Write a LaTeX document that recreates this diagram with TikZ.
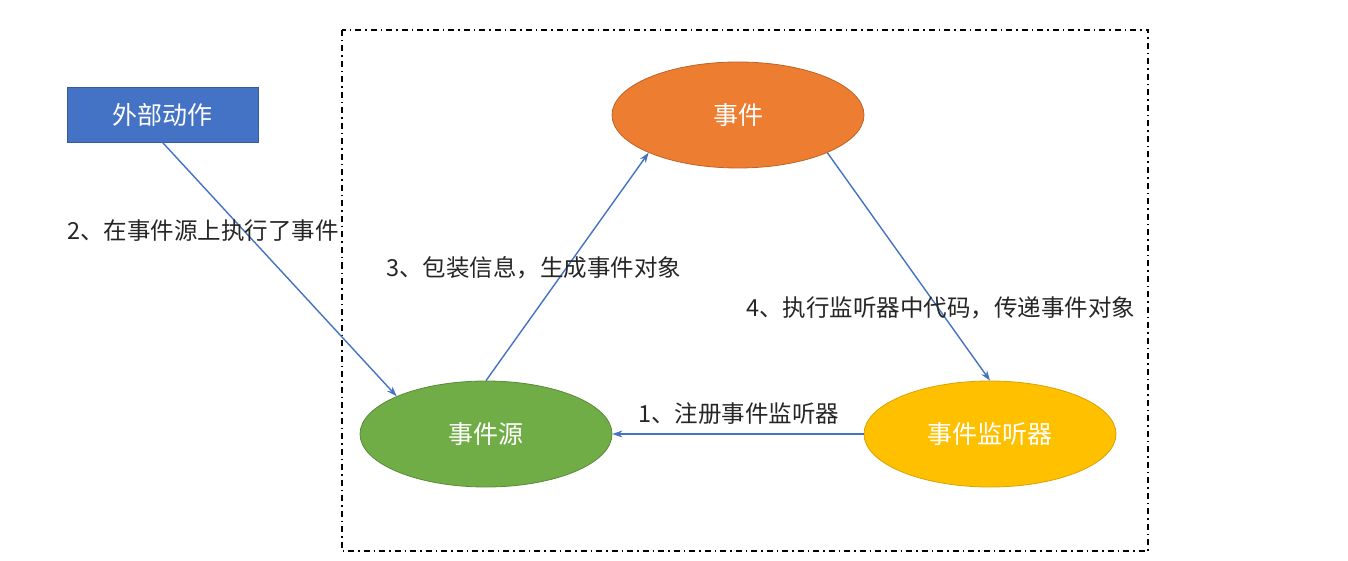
\documentclass[tikz,border=0pt]{standalone}
\usepackage{fontspec}
\setmainfont{Noto Sans CJK SC}
\usetikzlibrary{arrows.meta,shapes.geometric}
\definecolor{msblue}{HTML}{4472C4}
\definecolor{msorange}{HTML}{ED7D31}
\definecolor{msgreen}{HTML}{70AD47}
\definecolor{msgold}{HTML}{FFC000}
\begin{document}
\begin{tikzpicture}[x=1pt,y=-1pt,
	oval/.style={ellipse,inner sep=0pt,minimum width=252pt,minimum height=106pt,
		text=white,font=\fontsize{25}{30}\selectfont,line width=0.8pt},
	flow/.style={msblue,line width=1.4pt,-{Stealth[length=10pt,width=7pt]}},
	note/.style={anchor=west,inner sep=0pt,text=black!85,font=\fontsize{23.5}{28}\selectfont}]
	\useasboundingbox (0,0) rectangle (1348,561);
	%frame
	\draw[line width=1.6pt,dash pattern=on 6pt off 4pt on 1.5pt off 4pt] (342,30) rectangle (1148,551);
	%nodes
	\node[draw=msblue!80!black,fill=msblue,text=white,minimum width=191pt,minimum height=55pt,
		inner sep=0pt,line width=0.8pt,font=\fontsize{25}{30}\selectfont] (act) at (162.5,114.5) {外部动作};
	\node[oval,fill=msorange,draw=msorange!80!black] (evt) at (738,115) {事件};
	\node[oval,fill=msgreen,draw=msgreen!80!black] (src) at (486,434) {事件源};
	\node[oval,fill=msgold,draw=msgold!85!black] (lis) at (990,434) {事件监听器};
	%arrows
	\draw[flow] (act.south) -- (src.north west);
	\draw[flow] (src.north) -- (evt.south west);
	\draw[flow] (evt.south east) -- (lis.north);
	\draw[flow] (lis.west) -- (src.east);
	%labels
	\node[note] (n2) at (67,231) {2、在事件源上执行了事件};
	\node[note] (n3) at (386,268) {3、包装信息，生成事件对象};
	\node[note] (n4) at (746,308) {4、执行监听器中代码，传递事件对象};
	\node[note] (n1) at (638,414) {1、注册事件监听器};
\end{tikzpicture}
\end{document}
